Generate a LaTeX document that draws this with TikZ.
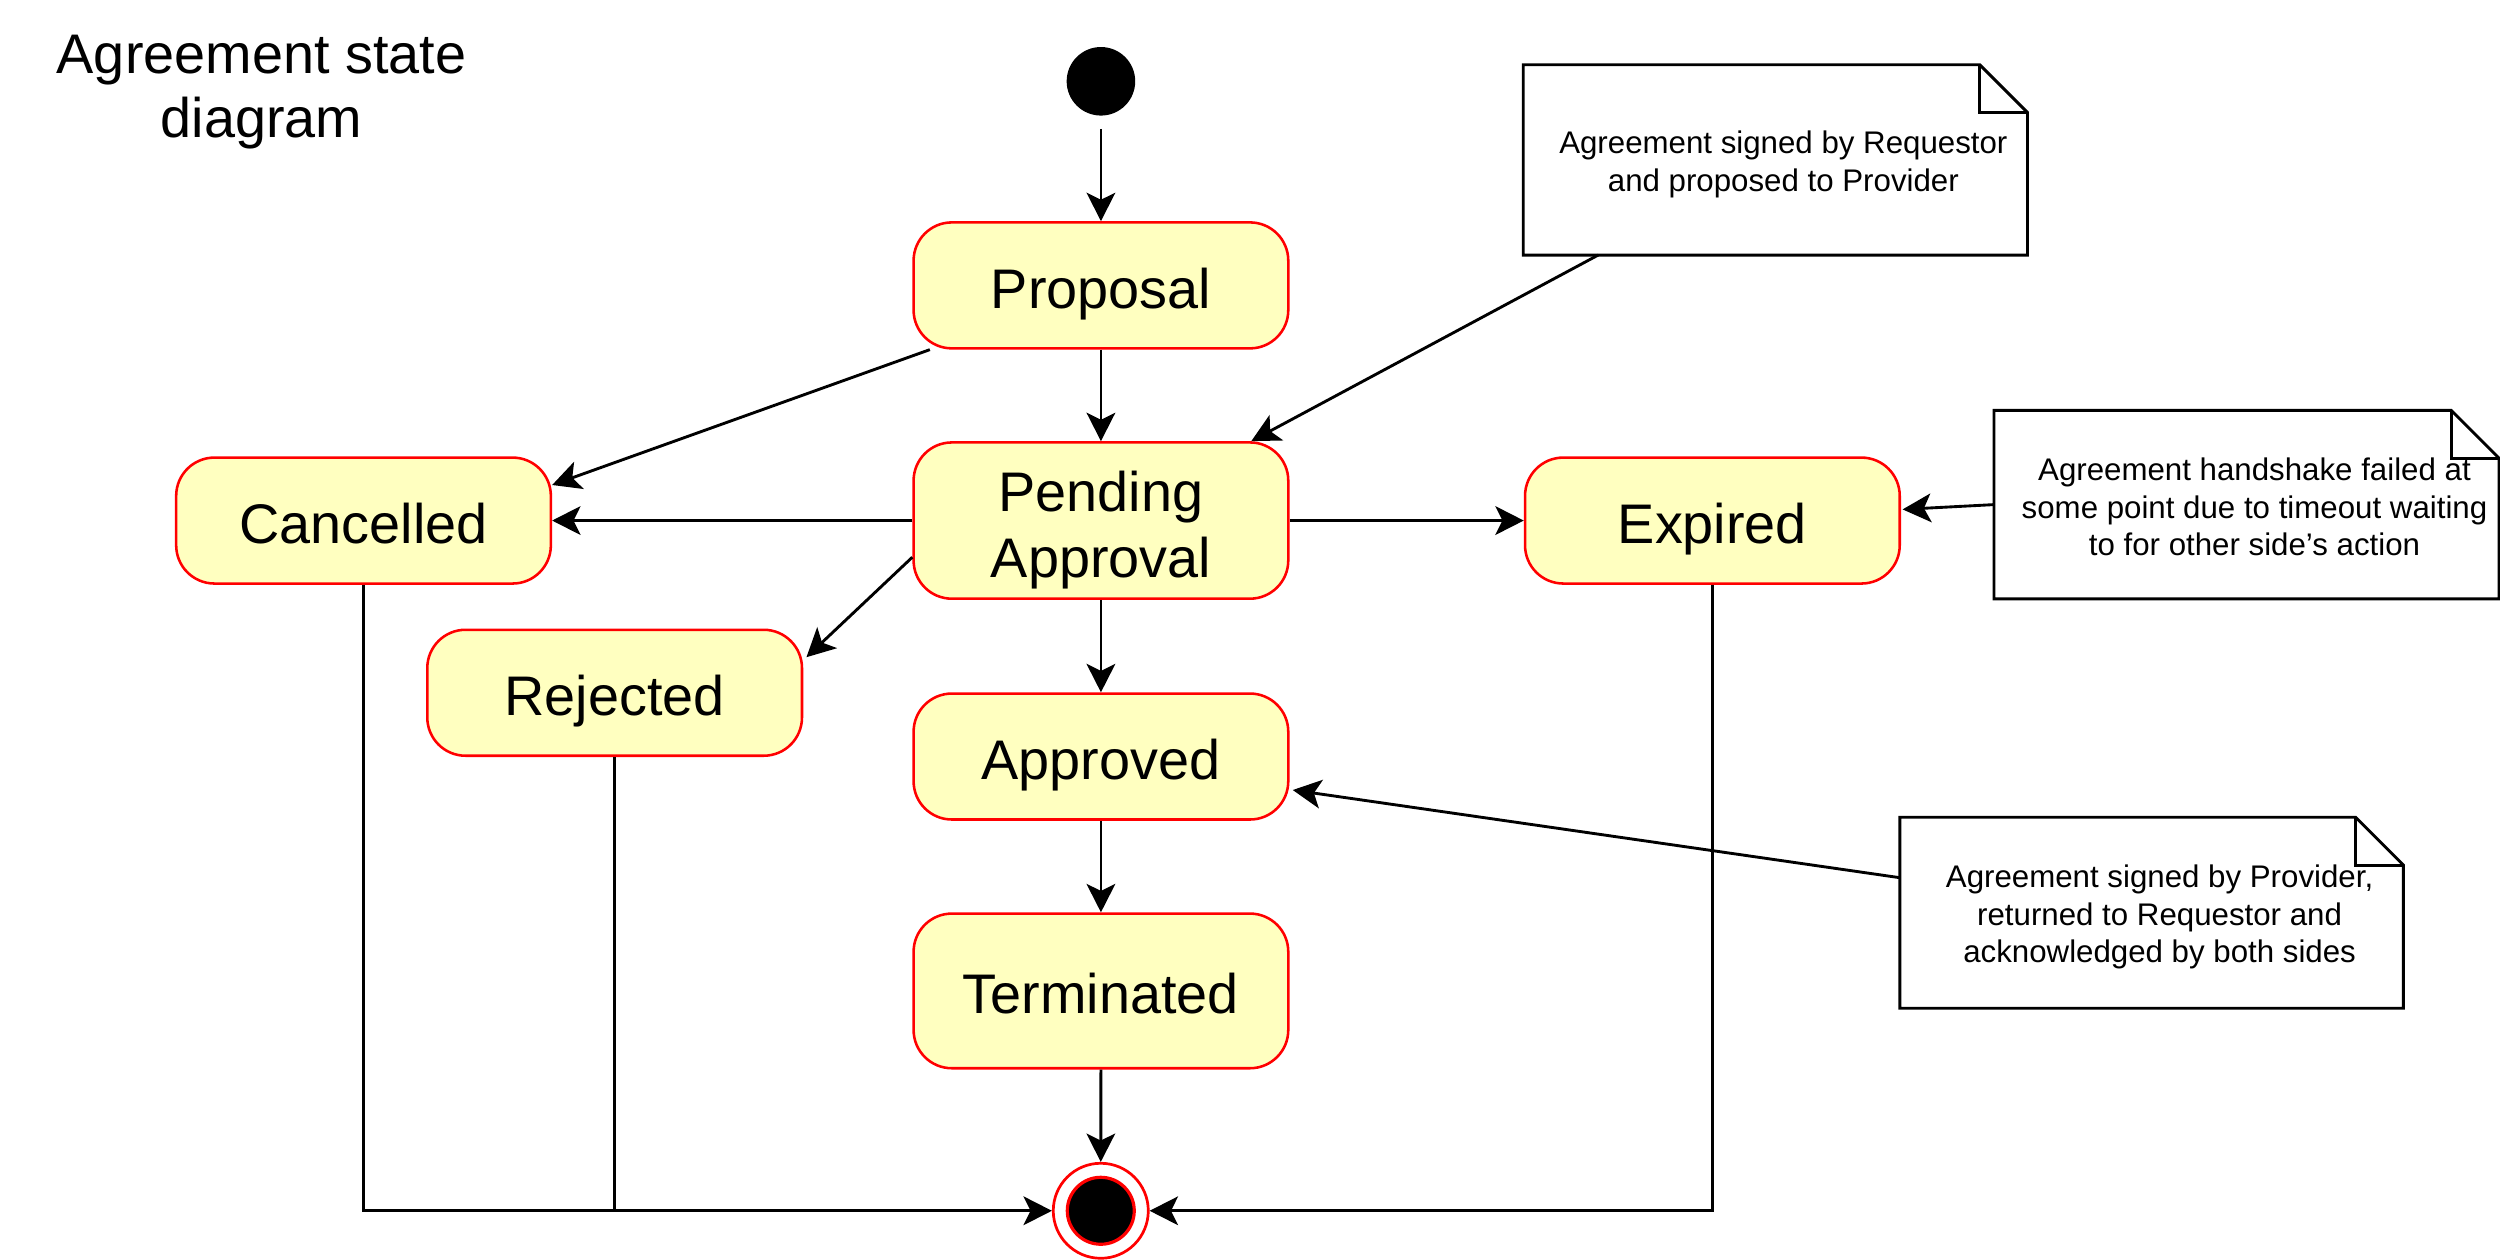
\documentclass[tikz,border=0pt]{standalone}
\usepackage{fontspec}
\setmainfont{Liberation Sans}
\usetikzlibrary{arrows.meta,calc}
\definecolor{stfill}{HTML}{FFFFC0}
\begin{document}
\begin{tikzpicture}[x=0.5pt,y=-0.5pt,
  state/.style={draw=red, fill=stfill, line width=0.8pt, rounded corners=12pt,
    minimum width=117.5pt, minimum height=39.5pt, align=center, inner sep=0pt,
    text height=14.4pt, text depth=0pt,
    font=\fontsize{17.5}{20.5}\selectfont},
  notebox/.style={minimum width=157.5pt, minimum height=59pt, inner sep=0pt},
  notetext/.style={align=center, xshift=2.5pt, yshift=-1.4pt,
    font=\fontsize{9.8}{11.8}\selectfont},
  noteline/.style={draw=black, line width=0.9pt},
  arr/.style={line width=0.9pt, -{Stealth[length=8.9pt,width=9pt,inset=2.2pt]}},
  ln/.style={line width=0.9pt}]
\useasboundingbox (0,0) rectangle (1568,790);

% title
\node[align=center, font=\fontsize{17.5}{20}\selectfont] (title) at (164,58) {Agreement state\\diagram};

% states
\node[circle, fill=black, inner sep=0pt, minimum size=21.5pt] (start) at (690.5,51) {};
\node[state] (prop) at (690.5,179) {Proposal};
\node[state, minimum height=49pt, text height=35.4pt] (pend) at (690.5,326.5) {Pending\\Approval};
\node[state] (canc) at (228,326.5) {Cancelled};
\node[state] (expi) at (1074,326.5) {Expired};
\node[state] (rej) at (385.5,434.5) {Rejected};
\node[state] (appr) at (690.5,474.5) {Approved};
\node[state, minimum height=48.5pt] (term) at (690.5,621.5) {Terminated};
\node[circle, draw=red, fill=white, line width=0.85pt, inner sep=0pt, minimum size=29.8pt] (endo) at (690.4,759.4) {};
\node[circle, draw=red, fill=black, line width=1pt, inner sep=0pt, minimum size=21pt] (endi) at (690.4,759.4) {};

% notes
\node[notebox, minimum width=157.75pt, minimum height=59.3pt,
  label={[notetext]center:{Agreement signed by Requestor\\and proposed to Provider}}] (n1) at (1113.5,100.3) {};
\node[notebox, minimum width=158pt, minimum height=58.7pt,
  label={[notetext, yshift=0.6pt]center:{Agreement handshake failed at\\some point due to timeout waiting\\to for other side{\char"0027}s action}}] (n2) at (1409,316.5) {};
\node[notebox, minimum width=157.5pt, minimum height=59.5pt,
  label={[notetext]center:{Agreement signed by Provider,\\returned to Requestor and\\acknowledged by both sides}}] (n3) at (1349.5,572.5) {};
\foreach \n in {n1,n2,n3} {
  \draw[noteline] (\n.north west) -- ([xshift=-15pt]\n.north east) -- ([yshift=-15pt]\n.north east)
     -- (\n.south east) -- (\n.south west) -- cycle;
  \draw[noteline] ([xshift=-15pt]\n.north east) -- ([xshift=-15pt,yshift=-15pt]\n.north east)
     -- ([yshift=-15pt]\n.north east);
}

% transitions
\draw[arr, shorten <=4pt] (start) -- (prop);
\draw[arr] (prop.south) -- (pend.north);
\draw[arr] ($(prop.south west)+(11,0)$) -- ($(canc.north east)+(0,18)$);
\draw[arr] (pend.west) -- (canc.east);
\draw[arr] (pend.east) -- (expi.west);
\draw[arr] ($(pend.west)+(0,23)$) -- ($(rej.north east)+(2,18)$);
\draw[arr] (pend.south) -- (appr.north);
\draw[arr] (appr.south) -- (term.north);
\draw[arr] (term.south) -- (endo.north);
\draw[arr] (canc.south) |- (endo.west);
\draw[ln] (rej.south) -- (rej.south |- endo.west);
\draw[arr] (expi.south) |- (endo.east);

% note links
\draw[arr] ($(n1.south west)+(47,0)$) -- ($(pend.north east)+(-24,0)$);
\draw[arr] (n2.west) -- ($(expi.east)+(1,-7)$);
\draw[arr] ($(n3.west)+(0,-22)$) -- ($(appr.east)+(2,21)$);
\end{tikzpicture}
\end{document}
